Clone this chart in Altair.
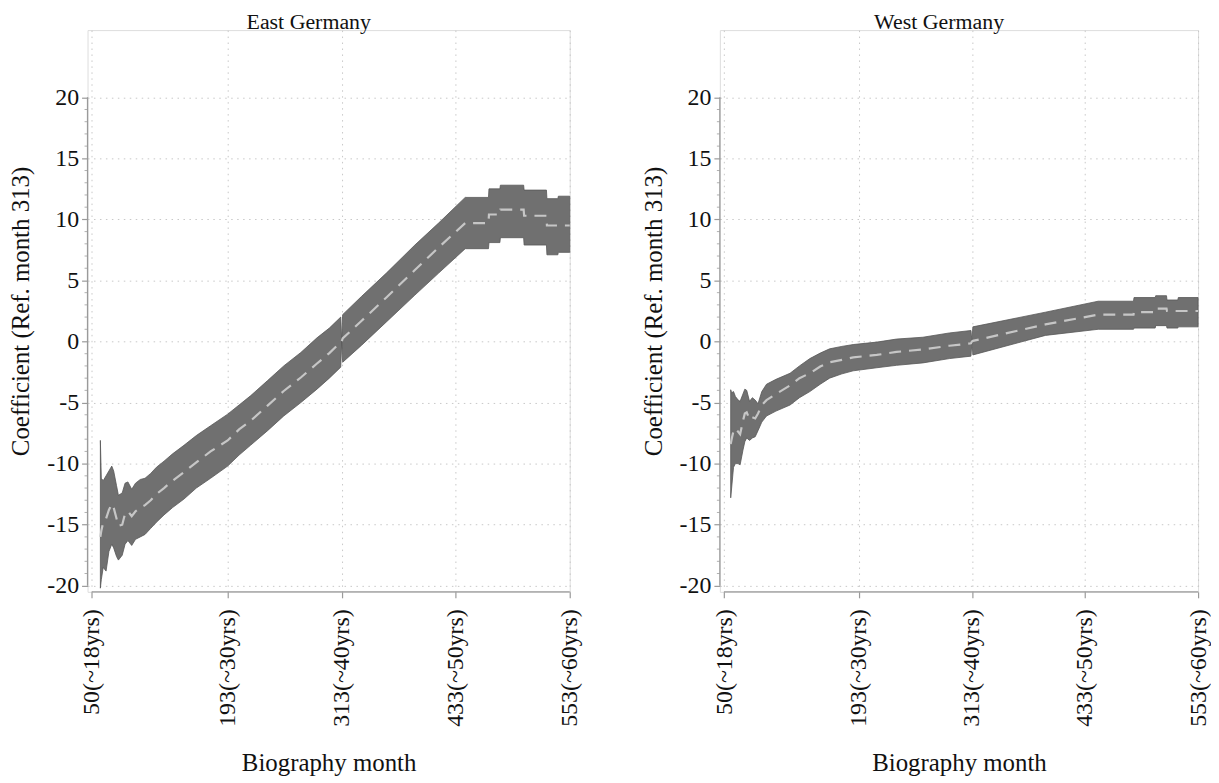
import altair as alt
import pandas as pd

# ---------------- data ----------------
east_month = [59, 60, 62, 65, 68, 71, 73, 76, 78, 82, 85, 88, 92, 96, 101, 106, 112, 118,
              126, 135, 147, 160, 175, 193, 205, 217, 235, 252, 270, 287, 300, 312, 313,
              314, 334, 360, 390, 415, 443, 467.5, 468, 479.5, 480, 504.5, 505, 528.5,
              529, 540.5, 541, 553]
east_upper = [-8.1, -11.2, -11.4, -11.0, -10.6, -10.2, -10.6, -11.8, -12.6, -12.4, -11.6,
              -11.5, -12.1, -11.6, -11.3, -11.2, -10.8, -10.3, -9.8, -9.2, -8.5, -7.7, -6.9,
              -5.95, -5.2, -4.45, -3.2, -2.0, -0.9, 0.3, 1.1, 2.0, 0.0,
              2.2, 3.7, 5.6, 7.9, 9.7, 11.8, 11.8, 12.5, 12.5, 12.8, 12.8, 12.4, 12.4,
              11.7, 11.7, 11.9, 11.9]
east_lower = [-20.2, -19.5, -18.5, -18.8, -17.2, -16.6, -16.9, -17.6, -17.9, -17.5, -16.6,
              -16.3, -16.7, -16.2, -16.0, -15.8, -15.3, -14.8, -14.2, -13.6, -12.9, -12.0,
              -11.2, -10.2, -9.3, -8.5, -7.3, -6.1, -5.0, -3.9, -3.0, -2.1, 0.0,
              -1.7, -0.3, 1.6, 3.8, 5.6, 7.6, 7.6, 8.1, 8.1, 8.5, 8.5, 7.9, 7.9,
              7.1, 7.1, 7.3, 7.3]
east_coef = [-16.0, -15.5, -14.8, -14.5, -13.8, -13.3, -13.6, -14.5, -15.1, -15.0, -14.1,
             -13.9, -14.3, -13.9, -13.6, -13.4, -13.0, -12.5, -12.0, -11.4, -10.7, -9.9,
             -9.0, -8.1, -7.2, -6.5, -5.25, -4.05, -2.95, -1.8, -0.95, -0.05, 0.0,
             0.25, 1.7, 3.6, 5.85, 7.7, 9.7, 9.7, 10.4, 10.4, 10.8, 10.8, 10.3, 10.3,
             9.5, 9.5, 9.5, 9.5]

west_month = [57, 58, 60, 62, 65, 67, 70, 72, 74, 77, 80, 83, 86, 90, 95, 105, 120, 130,
              141, 152, 162, 175, 187, 212, 233, 261, 289, 312, 313, 314, 391, 447,
              484.5, 485, 507.5, 508, 519.5, 520, 531.5, 532, 553]
west_upper = [-3.95, -4.2, -4.1, -4.5, -4.8, -4.9, -4.3, -3.9, -4.0, -4.9, -4.6, -4.8, -5.1,
              -4.1, -3.5, -3.1, -2.6, -2.0, -1.4, -0.95, -0.6, -0.4, -0.25, -0.05, 0.2, 0.35,
              0.7, 0.9, 0.0, 1.2, 2.4, 3.3, 3.3, 3.6, 3.6, 3.75, 3.75, 3.4, 3.4, 3.6, 3.6]
west_lower = [-12.8, -12.0, -10.3, -10.0, -10.0, -10.1, -8.9, -8.2, -7.9, -8.1, -7.9, -7.8,
              -7.3, -6.6, -6.1, -5.7, -5.2, -4.6, -4.1, -3.5, -3.0, -2.65, -2.4, -2.15, -1.95,
              -1.75, -1.4, -1.2, 0.0, -1.1, 0.5, 1.0, 1.0, 1.1, 1.1, 1.3, 1.3, 1.1, 1.1,
              1.2, 1.2]
west_coef = [-8.4, -8.0, -7.3, -7.1, -7.4, -7.6, -6.5, -5.9, -5.8, -6.4, -6.2, -6.3, -5.9,
             -5.2, -4.8, -4.3, -3.6, -3.0, -2.6, -2.05, -1.7, -1.5, -1.3, -1.1, -0.85,
             -0.65, -0.35, -0.15, 0.0, 0.05, 1.4, 2.2, 2.2, 2.4, 2.4, 2.7, 2.7, 2.5, 2.5,
             2.5, 2.5]

x_ticks = [50, 193, 313, 433, 553]
x_tick_labels = ["50(~18yrs)", "193(~30yrs)", "313(~40yrs)", "433(~50yrs)", "553(~60yrs)"]
y_ticks = [-20, -15, -10, -5, 0, 5, 10, 15, 20]
y_minor = [-19, -18, -17, -16, -14, -13, -12, -11, -9, -8, -7, -6, -4, -3, -2, -1,
           1, 2, 3, 4, 6, 7, 8, 9, 11, 12, 13, 14, 16, 17, 18, 19]

# ---------------- styling ----------------
FONT = "Liberation Serif"
H = 565
X_DOMAIN = [45.5, 553]
Y_DOMAIN = [-20.5, 25.5]
AXIS_GRAY = "#9a9a9a"

label_expr = ""
for v, lab in zip(x_ticks, x_tick_labels):
    label_expr += f"datum.value == {v} ? '{lab}' : "
label_expr += "''"


def panel(title, month, lower, coef, upper, width):
    df = pd.DataFrame({"month": month, "lower": lower, "coef": coef, "upper": upper})
    xs = alt.Scale(domain=X_DOMAIN, nice=False, zero=False)
    ys = alt.Scale(domain=Y_DOMAIN, nice=False, zero=False)

    x_axis = alt.Axis(values=x_ticks, labelExpr=label_expr, labelAngle=270,
                      domain=False, grid=True, gridColor="#c8c8c8", gridDash=[1.5, 4.5],
                      gridWidth=1, tickColor=AXIS_GRAY, tickSize=6, tickWidth=1.2,
                      labelFont=FONT, labelFontSize=24, labelColor="#111",
                      labelPadding=11, title="Biography month", titleFont=FONT,
                      titleFontSize=25, titleFontWeight="normal", titleColor="#111",
                      titlePadding=24)
    y_axis = alt.Axis(values=y_ticks, labelExpr="'' + datum.value", domain=False,
                      grid=True, gridColor="#c8c8c8",
                      gridDash=[1.5, 4.5], gridWidth=1, tickColor=AXIS_GRAY, tickSize=6,
                      tickWidth=1.2, labelFont=FONT, labelFontSize=24, labelColor="#111",
                      labelPadding=3, title="Coefficient (Ref. month 313)", titleFont=FONT,
                      titleFontSize=25, titleFontWeight="normal", titleColor="#111",
                      titlePadding=13)

    band = alt.Chart(df).mark_area(color="#707070", stroke="#575757", strokeWidth=0.8,
                                   opacity=1).encode(
        x=alt.X("month:Q", scale=xs, axis=x_axis),
        y=alt.Y("lower:Q", scale=ys, axis=y_axis),
        y2="upper:Q",
    )
    line = alt.Chart(df).mark_line(color="#c6c6c6", strokeDash=[12, 8],
                                   strokeWidth=2.2).encode(
        x=alt.X("month:Q", scale=xs, axis=x_axis),
        y=alt.Y("coef:Q", scale=ys, axis=y_axis),
    )
    yline = alt.Chart(pd.DataFrame({"a": [y_ticks[-1]], "b": [y_ticks[0]]})).mark_rule(
        color=AXIS_GRAY, strokeWidth=1.3).encode(
        x=alt.value(0),
        y=alt.Y("a:Q", scale=ys, axis=y_axis),
        y2="b:Q",
    )
    xline = alt.Chart(pd.DataFrame({"a": [x_ticks[0]], "b": [x_ticks[-1]]})).mark_rule(
        color=AXIS_GRAY, strokeWidth=1.3).encode(
        x=alt.X("a:Q", scale=xs, axis=x_axis),
        x2="b:Q",
        y=alt.value(H),
    )
    minor = alt.Chart(pd.DataFrame({"v": y_minor})).mark_rule(
        color="#b0b0b0", strokeWidth=1).encode(
        y=alt.Y("v:Q", scale=ys, axis=y_axis),
        x=alt.value(-3),
        x2=alt.value(0),
    )
    return alt.layer(band, line, minor, yline, xline).properties(
        width=width, height=H,
        title=alt.TitleParams(title, font=FONT, fontSize=22, fontWeight="normal",
                              color="#111", offset=-4, dx=-20, anchor="middle"),
    )


left = panel("East Germany", east_month, east_lower, east_coef, east_upper, 485)
right = panel("West Germany", west_month, west_lower, west_coef, west_upper, 481)

chart = alt.hconcat(left, right, spacing=58).properties(
    padding={"left": 0, "top": 0, "right": 0, "bottom": 0}
).configure_view(strokeWidth=0).configure(font=FONT, background="white")

chart.save("out.html", embed_options={"renderer": "svg", "actions": False})
